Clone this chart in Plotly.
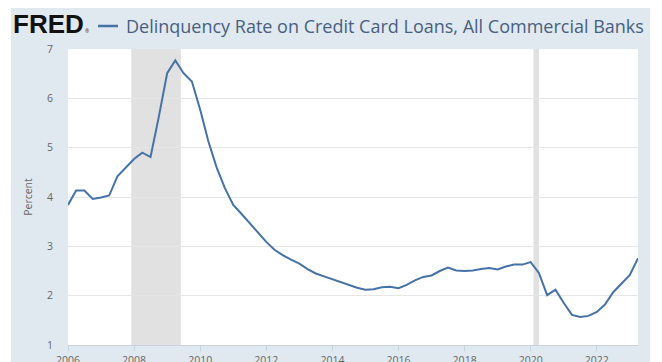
import pandas as pd
import plotly.graph_objects as go

# Quarterly observations, 2006Q1 .. 2023Q2
start_date = "2006-01-01"
end_date = "2023-04-01"
n_obs = 70
dates = pd.date_range(start_date, periods=n_obs, freq="QS")

rate = [
    3.84, 4.13, 4.13, 3.96,   # 2006
    3.99, 4.03, 4.42, 4.59,   # 2007
    4.77, 4.90, 4.81, 5.63,   # 2008
    6.51, 6.77, 6.51, 6.34,   # 2009
    5.77, 5.13, 4.60, 4.18,   # 2010
    3.84, 3.66, 3.47, 3.28,   # 2011
    3.09, 2.93, 2.82, 2.73,   # 2012
    2.65, 2.54, 2.45, 2.39,   # 2013
    2.33, 2.27, 2.21, 2.16,   # 2014
    2.12, 2.13, 2.17, 2.18,   # 2015
    2.15, 2.22, 2.31, 2.38,   # 2016
    2.41, 2.50, 2.57, 2.51,   # 2017
    2.50, 2.51, 2.54, 2.56,   # 2018
    2.53, 2.59, 2.63, 2.63,   # 2019
    2.68, 2.46, 2.01, 2.12,   # 2020
    1.85, 1.61, 1.57, 1.59,   # 2021
    1.67, 1.82, 2.07, 2.24,   # 2022
    2.42, 2.76,               # 2023
]

recessions = [("2007-12-01", "2009-06-01"), ("2020-02-01", "2020-04-01")]

x_tick_vals = ["2006-01-01", "2008-01-01", "2010-01-01", "2012-01-01", "2014-01-01",
               "2016-01-01", "2018-01-01", "2020-01-01", "2022-01-01"]
x_tick_text = ["2006", "2008", "2010", "2012", "2014", "2016", "2018", "2020", "2022"]
y_tick_vals = [1, 2, 3, 4, 5, 6, 7]

series_title = "Delinquency Rate on Credit Card Loans, All Commercial Banks"
y_title = "Percent"

# page offset of the figure (body margin) is 8px
OFF = 8
W, H = 642, 354
ML, MR, MT, MB = 60, 12, 41, 17
PW, PH = W - ML - MR, H - MT - MB


def px(xp):  # page pixel -> paper x
    return (xp - OFF - ML) / PW


def py(yp):  # page pixel -> paper y
    return (OFF + H - MB - yp) / PH


LINE = "#4572a7"
BG = "#e1e9f0"
FONT = "Open Sans, Liberation Sans, Arial, sans-serif"

fig = go.Figure()
fig.add_trace(go.Scatter(x=dates, y=rate, mode="lines",
                         line=dict(color=LINE, width=2), hoverinfo="skip"))

shapes = []
# thin white strip at the far left of the frame
shapes.append(dict(type="rect", xref="paper", yref="paper", x0=px(0), x1=px(11),
                   y0=py(H + 20), y1=py(0), fillcolor="white", line_width=0, layer="below"))
for r0, r1 in recessions:
    shapes.append(dict(type="rect", xref="x", yref="paper", x0=r0, x1=r1, y0=0, y1=1,
                       fillcolor="#e1e1e1", line_width=0, layer="between"))
# legend dash in the title
shapes.append(dict(type="line", xref="paper", yref="paper", x0=px(98), x1=px(118),
                   y0=py(26), y1=py(26), line=dict(color=LINE, width=2.5)))

annotations = [
    dict(text="<b>FRED</b>", xref="paper", yref="paper", x=px(11), y=py(24),
         xanchor="left", yanchor="middle", showarrow=False,
         font=dict(family="Liberation Sans, Arial, sans-serif", size=26, color="#111111")),
    dict(text="®", xref="paper", yref="paper", x=px(83), y=py(31),
         xanchor="left", yanchor="middle", showarrow=False,
         font=dict(family=FONT, size=5, color="#333333")),
    dict(text=series_title, xref="paper", yref="paper", x=px(124), y=py(26),
         xanchor="left", yanchor="middle", showarrow=False,
         font=dict(family=FONT, size=18, color="#475f80")),
]

fig.update_layout(
    width=W, height=H,
    margin=dict(l=ML, r=MR, t=MT, b=MB, pad=0, autoexpand=False),
    paper_bgcolor=BG, plot_bgcolor="white",
    showlegend=False,
    shapes=shapes, annotations=annotations,
    font=dict(family=FONT, color="#666666"),
    xaxis=dict(type="date", range=[start_date, end_date],
               tickvals=x_tick_vals, ticktext=x_tick_text,
               showgrid=False, zeroline=False, automargin=False,
               showline=True, linecolor="#c6d3e1", linewidth=1,
               ticks="outside", ticklen=5, tickcolor="#c6d3e1",
               tickfont=dict(size=10.5, color="#666666"), ticklabelstandoff=0),
    yaxis=dict(range=[1, 7], tickvals=y_tick_vals, automargin=False,
               showgrid=True, gridcolor="#e6e6e6", gridwidth=1,
               zeroline=False, showline=False, ticks="",
               tickfont=dict(size=10.5, color="#666666"), ticklabelstandoff=14,
               title=dict(text=y_title, font=dict(size=10.5, color="#666666"), standoff=12)),
)

fig.write_html("out.html")
